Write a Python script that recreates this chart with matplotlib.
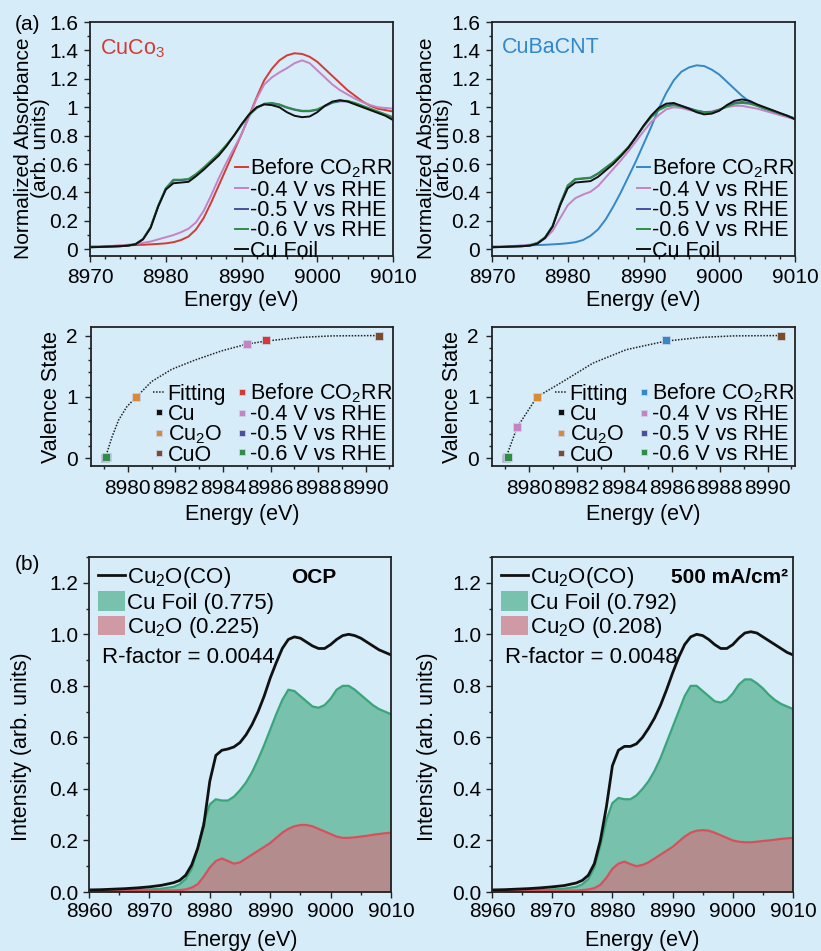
import matplotlib
matplotlib.use("Agg")
import matplotlib.pyplot as plt
from matplotlib.ticker import MultipleLocator

plt.rcParams['font.family'] = ['Liberation Sans', 'DejaVu Sans']
plt.rcParams['mathtext.default'] = 'regular'

# ---------------- data: top XANES panels ----------------
E_top = list(range(8970, 9011))

cuco3_before = [0.02, 0.02, 0.022, 0.024, 0.026, 0.028, 0.03, 0.032, 0.035, 0.038,
                0.042, 0.05, 0.065, 0.09, 0.14, 0.22, 0.33, 0.45, 0.57, 0.69,
                0.81, 0.94, 1.07, 1.19, 1.27, 1.33, 1.365, 1.38, 1.375, 1.355,
                1.32, 1.27, 1.22, 1.17, 1.12, 1.08, 1.04, 1.01, 0.99, 0.98, 0.97]
cuco3_m04 = [0.015, 0.017, 0.02, 0.023, 0.027, 0.032, 0.038, 0.045, 0.055, 0.07,
             0.085, 0.10, 0.12, 0.145, 0.19, 0.27, 0.38, 0.50, 0.61, 0.71,
             0.81, 0.93, 1.06, 1.16, 1.21, 1.245, 1.275, 1.31, 1.33, 1.31,
             1.26, 1.21, 1.16, 1.12, 1.09, 1.06, 1.035, 1.015, 1.0, 0.995, 0.99]
cuco3_m05 = [0.015, 0.016, 0.018, 0.02, 0.022, 0.026, 0.036, 0.072, 0.155, 0.305,
             0.425, 0.485, 0.487, 0.492, 0.527, 0.572, 0.622, 0.672, 0.732, 0.80,
             0.875, 0.945, 0.995, 1.022, 1.027, 1.017, 0.997, 0.982, 0.972, 0.972,
             0.982, 1.007, 1.032, 1.042, 1.042, 1.027, 1.007, 0.987, 0.967, 0.947, 0.927]
cuco3_m06 = [0.015, 0.016, 0.018, 0.02, 0.022, 0.026, 0.037, 0.073, 0.157, 0.307,
             0.43, 0.49, 0.49, 0.495, 0.53, 0.575, 0.625, 0.675, 0.735, 0.80,
             0.875, 0.945, 0.995, 1.025, 1.03, 1.02, 1.0, 0.985, 0.975, 0.975,
             0.985, 1.01, 1.035, 1.045, 1.045, 1.03, 1.01, 0.99, 0.97, 0.95, 0.93]
cuco3_foil = [0.015, 0.016, 0.018, 0.02, 0.022, 0.026, 0.035, 0.07, 0.15, 0.30,
              0.42, 0.465, 0.47, 0.475, 0.515, 0.56, 0.61, 0.66, 0.725, 0.80,
              0.88, 0.95, 1.0, 1.02, 1.015, 1.0, 0.965, 0.94, 0.93, 0.935,
              0.965, 1.01, 1.04, 1.05, 1.04, 1.02, 1.0, 0.98, 0.96, 0.94, 0.91]

cnt_before = [0.02, 0.02, 0.022, 0.024, 0.026, 0.028, 0.03, 0.032, 0.035, 0.038,
              0.043, 0.05, 0.065, 0.095, 0.14, 0.21, 0.30, 0.40, 0.51, 0.62,
              0.74, 0.86, 0.99, 1.10, 1.19, 1.25, 1.28, 1.295, 1.29, 1.265,
              1.23, 1.18, 1.13, 1.08, 1.04, 1.01, 0.99, 0.97, 0.95, 0.935, 0.92]
cnt_m04 = [0.015, 0.017, 0.02, 0.023, 0.027, 0.033, 0.045, 0.075, 0.13, 0.22,
           0.31, 0.36, 0.385, 0.405, 0.445, 0.505, 0.565, 0.625, 0.69, 0.76,
           0.83, 0.895, 0.945, 0.985, 1.0, 0.995, 0.98, 0.97, 0.965, 0.97,
           0.985, 1.0, 1.01, 1.01, 1.0, 0.99, 0.975, 0.96, 0.945, 0.93, 0.915]
cnt_m05 = [0.015, 0.016, 0.018, 0.02, 0.022, 0.027, 0.044, 0.083, 0.163, 0.318,
           0.447, 0.492, 0.497, 0.502, 0.532, 0.572, 0.612, 0.662, 0.718, 0.79,
           0.865, 0.93, 0.982, 1.01, 1.02, 1.01, 0.993, 0.977, 0.966, 0.966,
           0.982, 1.008, 1.03, 1.037, 1.03, 1.013, 0.993, 0.977, 0.957, 0.94, 0.92]
cnt_m06 = [0.015, 0.016, 0.018, 0.02, 0.022, 0.028, 0.045, 0.085, 0.165, 0.32,
           0.45, 0.495, 0.50, 0.505, 0.535, 0.575, 0.615, 0.665, 0.72, 0.79,
           0.865, 0.93, 0.98, 1.005, 1.015, 1.005, 0.99, 0.975, 0.965, 0.965,
           0.98, 1.005, 1.025, 1.03, 1.025, 1.01, 0.99, 0.975, 0.955, 0.94, 0.92]
cnt_foil = [0.015, 0.016, 0.018, 0.02, 0.022, 0.026, 0.04, 0.08, 0.16, 0.31,
            0.43, 0.47, 0.475, 0.48, 0.51, 0.555, 0.60, 0.655, 0.715, 0.79,
            0.87, 0.94, 0.995, 1.025, 1.03, 1.01, 0.99, 0.965, 0.95, 0.955,
            0.975, 1.015, 1.045, 1.055, 1.045, 1.02, 1.0, 0.98, 0.96, 0.94, 0.915]

top_labels = ["Before CO$_2$RR", "-0.4 V vs RHE", "-0.5 V vs RHE", "-0.6 V vs RHE", "Cu Foil"]
top_yticks = [0, 0.2, 0.4, 0.6, 0.8, 1.0, 1.2, 1.4, 1.6]
top_yticklabels = ['0', '0.2', '0.4', '0.6', '0.8', '1', '1.2', '1.4', '1.6']
top_xticks = [8970, 8980, 8990, 9000, 9010]

# ---------------- data: valence state panels ----------------
fit_l_E = [8979.05, 8979.33, 8979.61, 8979.96, 8980.34, 8981.0, 8981.85, 8982.82,
           8983.94, 8985.0, 8985.8, 8987.24, 8988.6, 8990.55]
fit_l_V = [0.0, 0.34, 0.62, 0.84, 0.99, 1.25, 1.45, 1.60, 1.75, 1.86, 1.91, 1.97, 1.995, 2.0]
fit_r_E = [8979.03, 8979.5, 8980.34, 8981.3, 8982.68, 8984.08, 8985.73, 8987.2, 8988.6, 8990.54]
fit_r_V = [0.0, 0.5, 1.0, 1.22, 1.55, 1.77, 1.91, 1.97, 1.995, 2.0]

ref_names = ["Cu", "Cu$_2$O", "CuO"]
ref_E = [8979.05, 8980.34, 8990.55]
ref_V = [0.0, 1.0, 2.0]

val_labels = ["Before CO$_2$RR", "-0.4 V vs RHE", "-0.5 V vs RHE", "-0.6 V vs RHE"]
cuco3_val_E = [8985.8, 8985.0, 8979.12, 8979.1]
cuco3_val_V = [1.92, 1.87, 0.02, 0.01]
cnt_val_E = [8985.73, 8979.5, 8979.07, 8979.1]
cnt_val_V = [1.92, 0.5, 0.01, 0.01]
mid_xticks = [8980, 8982, 8984, 8986, 8988, 8990]
mid_yticks = [0, 1, 2]

# ---------------- data: LCF panels ----------------
E_bot = [8960, 8962, 8964, 8966, 8968, 8970, 8972, 8974] + list(range(8975, 9011))

ocp_total = [0.008, 0.009, 0.011, 0.013, 0.016, 0.02, 0.026, 0.036,
             0.045, 0.065, 0.105, 0.17, 0.26, 0.43, 0.53, 0.55, 0.555, 0.563,
             0.58, 0.61, 0.65, 0.70, 0.76, 0.83, 0.89, 0.945, 0.98, 0.99,
             0.985, 0.97, 0.955, 0.945, 0.945, 0.96, 0.98, 0.995, 1.0, 0.995,
             0.985, 0.97, 0.955, 0.94, 0.93, 0.92]
ocp_foil = [0.005, 0.005, 0.006, 0.007, 0.008, 0.01, 0.013, 0.02,
            0.03, 0.05, 0.09, 0.17, 0.27, 0.34, 0.36, 0.355, 0.355, 0.37,
            0.395, 0.425, 0.465, 0.515, 0.57, 0.63, 0.69, 0.745, 0.785, 0.78,
            0.76, 0.74, 0.72, 0.715, 0.725, 0.75, 0.785, 0.80, 0.80, 0.785,
            0.765, 0.745, 0.725, 0.71, 0.70, 0.69]
ocp_cu2o = [0.003, 0.003, 0.003, 0.003, 0.004, 0.004, 0.005, 0.006,
            0.007, 0.01, 0.017, 0.03, 0.06, 0.095, 0.12, 0.13, 0.12, 0.11,
            0.115, 0.13, 0.145, 0.16, 0.175, 0.19, 0.21, 0.23, 0.245, 0.255,
            0.26, 0.26, 0.255, 0.245, 0.235, 0.225, 0.215, 0.21, 0.21, 0.212,
            0.215, 0.218, 0.222, 0.225, 0.228, 0.23]

hc_total = [0.008, 0.009, 0.011, 0.013, 0.016, 0.02, 0.025, 0.035,
            0.045, 0.065, 0.11, 0.2, 0.33, 0.49, 0.55, 0.565, 0.565, 0.575,
            0.60, 0.635, 0.675, 0.725, 0.785, 0.85, 0.91, 0.96, 0.99, 1.0,
            0.995, 0.98, 0.96, 0.945, 0.945, 0.96, 0.985, 1.005, 1.01, 1.005,
            0.99, 0.975, 0.96, 0.945, 0.93, 0.92]
hc_foil = [0.005, 0.005, 0.006, 0.007, 0.008, 0.01, 0.013, 0.02,
           0.03, 0.05, 0.095, 0.18, 0.28, 0.345, 0.365, 0.36, 0.36, 0.375,
           0.40, 0.43, 0.47, 0.52, 0.58, 0.64, 0.70, 0.76, 0.80, 0.80,
           0.78, 0.76, 0.74, 0.735, 0.745, 0.77, 0.805, 0.825, 0.825, 0.81,
           0.79, 0.765, 0.745, 0.73, 0.72, 0.71]
hc_cu2o = [0.003, 0.003, 0.003, 0.003, 0.004, 0.004, 0.005, 0.006,
           0.007, 0.01, 0.015, 0.028, 0.055, 0.09, 0.11, 0.118, 0.108, 0.10,
           0.105, 0.115, 0.13, 0.145, 0.16, 0.175, 0.195, 0.215, 0.23, 0.238,
           0.24, 0.238, 0.23, 0.22, 0.21, 0.20, 0.195, 0.193, 0.193, 0.195,
           0.198, 0.20, 0.203, 0.206, 0.208, 0.21]

bot_labels_ocp = ["Cu$_2$O(CO)", "Cu Foil (0.775)", "Cu$_2$O (0.225)"]
bot_labels_hc = ["Cu$_2$O(CO)", "Cu Foil (0.792)", "Cu$_2$O (0.208)"]
bot_yticks = [0.0, 0.2, 0.4, 0.6, 0.8, 1.0, 1.2]
bot_yticklabels = ['0.0', '0.2', '0.4', '0.6', '0.8', '1.0', '1.2']
bot_xticks = [8960, 8970, 8980, 8990, 9000, 9010]

# ---------------- style ----------------
BG = '#d6ecf9'
SP = '#222222'
C_RED = '#d23b35'
C_PINK = '#c483c2'
C_NAVY = '#4a4f9e'
C_GREEN = '#2f8d45'
C_BLACK = '#111111'
C_BLUE = '#3487c8'
C_ORANGE = '#d98a35'
C_BROWN = '#7b4b2a'

W, H = 821, 951
fig = plt.figure(figsize=(W / 100, H / 100), dpi=100, facecolor=BG)


def add_axes(x0, y0, x1, y1, pad=3):
    ax = fig.add_axes([x0 / W, 1 - y1 / H, (x1 - x0) / W, (y1 - y0) / H])
    ax.set_facecolor('none')
    for s in ax.spines.values():
        s.set_color(SP)
        s.set_linewidth(1.3)
    ax.tick_params(which='both', direction='out', color=SP, labelsize=15, width=1.0,
                   top=False, right=False, pad=pad)
    ax.tick_params(which='major', length=4.5)
    ax.tick_params(which='minor', length=2.5)
    return ax


def top_panel(ax, series, colors, title, tcolor, ylabx):
    for y, c, lab in zip(series, colors, top_labels):
        ax.plot(E_top, y, color=c, lw=1.4, label=lab)
    ax.set_xlim(8970, 9010)
    ax.set_ylim(-0.047, 1.6)
    ax.set_xticks(top_xticks)
    ax.xaxis.set_minor_locator(MultipleLocator(2))
    ax.set_yticks(top_yticks)
    ax.set_yticklabels(top_yticklabels)
    ax.yaxis.set_minor_locator(MultipleLocator(0.1))
    ax.set_xlabel("Energy (eV)", fontsize=15.5)
    ax.set_ylabel("Normalized Absorbance\n(arb. units)", fontsize=15, linespacing=0.85)
    ax.yaxis.set_label_coords(ylabx, 0.46)
    ax.xaxis.set_label_coords(0.5, -0.145)
    ax.text(0.033, 0.935, title, transform=ax.transAxes, color=tcolor, fontsize=15.5,
            ha='left', va='top')
    ax.legend(loc='lower right', bbox_to_anchor=(1.0, -0.025), frameon=False, fontsize=15.5,
              handlelength=0.6, handletextpad=0.12, labelspacing=-0.03, borderpad=0,
              borderaxespad=0)


axA = add_axes(90, 22, 393, 256, pad=4)
top_panel(axA, [cuco3_before, cuco3_m04, cuco3_m05, cuco3_m06, cuco3_foil],
          [C_RED, C_PINK, C_NAVY, C_GREEN, C_BLACK], "CuCo$_3$", C_RED, -0.132)
axB = add_axes(492, 22, 795, 256, pad=4)
top_panel(axB, [cnt_before, cnt_m04, cnt_m05, cnt_m06, cnt_foil],
          [C_BLUE, C_PINK, C_NAVY, C_GREEN, C_BLACK], "CuBaCNT", C_BLUE, -0.129)


def mid_panel(ax, fitE, fitV, valE, valV, before_color):
    h_fit, = ax.plot(fitE, fitV, ls=(0, (1, 1)), color='#222222', lw=1.1, label="Fitting")
    ref_colors = [C_BLACK, C_ORANGE, C_BROWN]
    hs_ref = []
    for e, v, c, n in zip(ref_E, ref_V, ref_colors, ref_names):
        h, = ax.plot([e], [v], 's', color=c, ms=5.5, mec='#c9d3e6', mew=0.6, label=n)
        hs_ref.append(h)
    val_colors = [before_color, C_PINK, C_NAVY, C_GREEN]
    hs_val = []
    for e, v, c, n in zip(valE, valV, val_colors, val_labels):
        h, = ax.plot([e], [v], 's', color=c, ms=5.5, mec='#c9d3e6', mew=0.6, label=n)
        hs_val.append(h)
    ax.set_xlim(8978.45, 8991.15)
    ax.set_ylim(-0.13, 2.14)
    ax.set_xticks(mid_xticks)
    ax.xaxis.set_minor_locator(MultipleLocator(1))
    ax.set_yticks(mid_yticks)
    ax.yaxis.set_minor_locator(MultipleLocator(0.2))
    ax.set_xlabel("Energy (eV)", fontsize=15.5)
    ax.set_ylabel("Valence State", fontsize=15.5)
    ax.yaxis.set_label_coords(-0.096, 0.5)
    ax.xaxis.set_label_coords(0.5, -0.27)
    handles = [h_fit] + hs_ref + hs_val
    ax.legend(handles=handles, ncol=2, loc='lower right', bbox_to_anchor=(1.0, 0.0),
              frameon=False, fontsize=15.5, handlelength=0.55, handletextpad=0.12,
              labelspacing=-0.05, borderpad=0, borderaxespad=0, columnspacing=0.45,
              markerscale=0.8)


axC = add_axes(91, 327, 393, 466, pad=5)
mid_panel(axC, fit_l_E, fit_l_V, cuco3_val_E, cuco3_val_V, C_RED)
axD = add_axes(492, 327, 795, 466, pad=5)
mid_panel(axD, fit_r_E, fit_r_V, cnt_val_E, cnt_val_V, C_BLUE)

G_FILL = '#50af8c'
R_FILL = '#cd7882'
G_EDGE = '#3aa57a'
R_EDGE = '#d8505c'


def bot_panel(ax, total, foil, cu2o, labels, tag, tagx, tagha, rf, ylabx):
    hg = ax.fill_between(E_bot, 0, foil, color=G_FILL, alpha=0.7, lw=0, label=labels[1])
    ax.plot(E_bot, foil, color=G_EDGE, lw=1.6)
    hr = ax.fill_between(E_bot, 0, cu2o, color=R_FILL, alpha=0.7, lw=0, label=labels[2])
    ax.plot(E_bot, cu2o, color=R_EDGE, lw=1.6)
    hk, = ax.plot(E_bot, total, color=C_BLACK, lw=2.0, label=labels[0])
    ax.set_xlim(8960, 9010)
    ax.set_ylim(0, 1.3)
    ax.set_xticks(bot_xticks)
    ax.xaxis.set_minor_locator(MultipleLocator(5))
    ax.set_yticks(bot_yticks)
    ax.set_yticklabels(bot_yticklabels)
    ax.yaxis.set_minor_locator(MultipleLocator(0.1))
    ax.set_xlabel("Energy (eV)", fontsize=15.5)
    ax.set_ylabel("Intensity (arb. units)", fontsize=15.5)
    ax.yaxis.set_label_coords(ylabx, 0.434)
    ax.xaxis.set_label_coords(0.5, -0.112)
    hg.set_edgecolor('#3a9a72')
    hr.set_edgecolor('#b8505a')
    ax.legend(handles=[hk, hg, hr], loc='upper left', bbox_to_anchor=(0.03, 0.975),
              frameon=False, fontsize=16, handlelength=1.2, handleheight=1.0,
              handletextpad=0.1, labelspacing=0.05, borderpad=0, borderaxespad=0)
    ax.text(tagx, 0.94, tag, transform=ax.transAxes, fontsize=15, fontweight='bold',
            ha=tagha, va='center')
    ax.text(0.043, 0.70, rf, transform=ax.transAxes, fontsize=16, ha='left', va='center')


axE = add_axes(89, 557, 391, 892, pad=3)
bot_panel(axE, ocp_total, ocp_foil, ocp_cu2o, bot_labels_ocp, "OCP", 0.745, 'center',
          "R-factor = 0.0044", -0.19)
axF = add_axes(492, 557, 793, 892, pad=3)
bot_panel(axF, hc_total, hc_foil, hc_cu2o, bot_labels_hc, "500 mA/cm²", 0.985, 'right',
          "R-factor = 0.0048", -0.18)

fig.text(27 / W, 1 - 24 / H, "(a)", fontsize=15, ha='center', va='center')
fig.text(27 / W, 1 - 565 / H, "(b)", fontsize=15, ha='center', va='center')

fig.savefig("out.png", dpi=100, facecolor=BG)
